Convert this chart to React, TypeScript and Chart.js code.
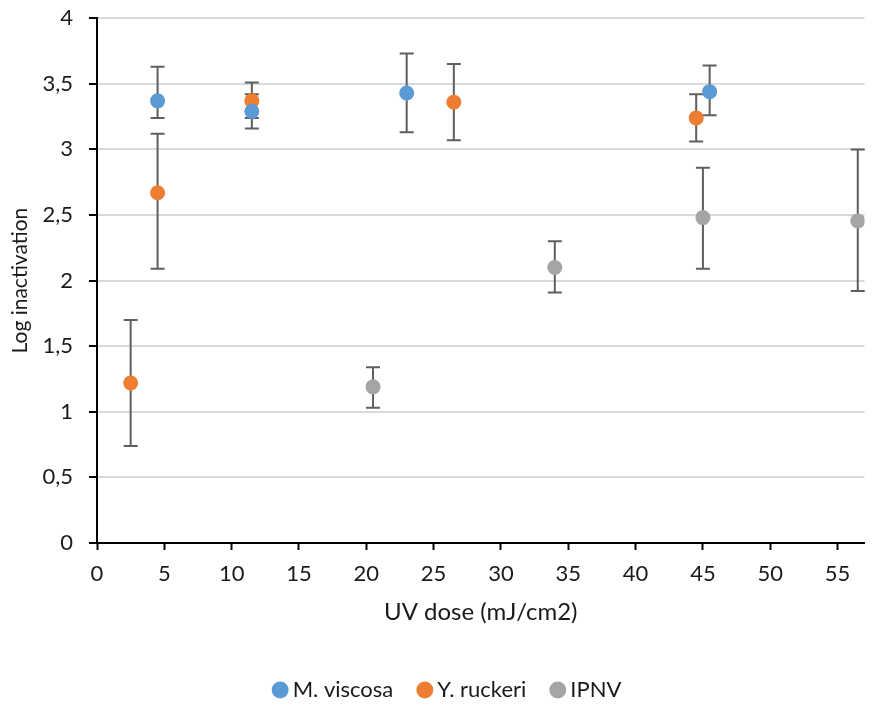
import React, { useEffect, useRef } from "react";
import { Chart, registerables } from "chart.js";

Chart.register(...registerables);

// M. viscosa
const mvX = [4.5, 11.5, 23.0, 45.5];
const mvY = [3.37, 3.29, 3.43, 3.44];
const mvLow = [3.24, 3.16, 3.13, 3.26];
const mvHigh = [3.63, 3.51, 3.73, 3.64];

// Y. ruckeri
const yrX = [2.5, 4.5, 11.5, 26.5, 44.5];
const yrY = [1.22, 2.67, 3.37, 3.36, 3.24];
const yrLow = [0.74, 2.09, 3.24, 3.07, 3.06];
const yrHigh = [1.7, 3.12, 3.42, 3.65, 3.42];

// IPNV
const ipX = [20.5, 34.0, 45.0, 56.5];
const ipY = [1.19, 2.1, 2.48, 2.455];
const ipLow = [1.03, 1.91, 2.09, 1.92];
const ipHigh = [1.34, 2.3, 2.86, 3.0];

const seriesNames = ["M. viscosa", "Y. ruckeri", "IPNV"];
const seriesColors = ["#5B9BD5", "#ED7D31", "#A5A5A5"];

const xTitle = "UV dose (mJ/cm2)";
const yTitle = "Log inactivation";

const FONT = "Lato, 'Open Sans', sans-serif";
const FS = 22;

function pts(xs: number[], ys: number[], lo: number[], hi: number[]) {
  return xs.map((x, i) => ({ x, y: ys[i], yMin: lo[i], yMax: hi[i] }));
}

const errorBarPlugin = {
  id: "errorBars",
  afterLayout(chart: any) {
    if (chart.legend) {
      chart.legend.left += 13;
      chart.legend.right += 13;
    }
  },
  beforeDatasetsDraw(chart: any) {
    const { ctx } = chart;
    const xs = chart.scales.x;
    const ys = chart.scales.y;
    ctx.save();
    ctx.strokeStyle = "#5f5f5f";
    ctx.lineWidth = 2;
    const cap = 7;
    chart.data.datasets.forEach((ds: any) => {
      ds.data.forEach((p: any) => {
        const x = xs.getPixelForValue(p.x);
        const y1 = ys.getPixelForValue(p.yMin);
        const y2 = ys.getPixelForValue(p.yMax);
        ctx.beginPath();
        ctx.moveTo(x, y1);
        ctx.lineTo(x, y2);
        ctx.moveTo(x - cap, y1);
        ctx.lineTo(x + cap, y1);
        ctx.moveTo(x - cap, y2);
        ctx.lineTo(x + cap, y2);
        ctx.stroke();
      });
    });
    ctx.restore();
  },
};

export default function App() {
  const ref = useRef<HTMLCanvasElement>(null);

  useEffect(() => {
    const data = [
      pts(mvX, mvY, mvLow, mvHigh),
      pts(yrX, yrY, yrLow, yrHigh),
      pts(ipX, ipY, ipLow, ipHigh),
    ];
    const chart = new Chart(ref.current!, {
      type: "scatter",
      data: {
        datasets: data.map((d, i) => ({
          label: seriesNames[i],
          data: d,
          backgroundColor: seriesColors[i],
          borderColor: seriesColors[i],
          borderWidth: 0,
          pointRadius: 7.5,
          pointHoverRadius: 7.5,
          pointStyle: "circle",
        })),
      },
      plugins: [errorBarPlugin],
      options: {
        responsive: false,
        animation: false,
        layout: { padding: { left: 8, right: 6, top: 6, bottom: 0 } },
        plugins: {
          tooltip: { enabled: false },
          legend: {
            position: "bottom",
            labels: {
              usePointStyle: true,
              boxWidth: 3,
              boxHeight: 12,
              padding: 30,
              color: "#1a1a1a",
              font: { family: FONT, size: FS },
            },
          },
        },
        scales: {
          x: {
            type: "linear",
            min: 0,
            max: 57,
            afterFit(scale: any) {
              scale.height = 106;
            },
            ticks: {
              stepSize: 5,
              includeBounds: false,
              color: "#1a1a1a",
              font: { family: FONT, size: FS },
              padding: 11,
              maxRotation: 0,
            },
            grid: {
              drawOnChartArea: false,
              tickLength: 7,
              tickColor: "#000",
              tickWidth: 2,
            },
            border: { color: "#000", width: 2 },
            title: {
              display: true,
              text: xTitle,
              color: "#1a1a1a",
              font: { family: FONT, size: 24 },
              padding: { top: 0, bottom: 22 },
            },
          },
          y: {
            type: "linear",
            min: 0,
            max: 4,
            afterFit(scale: any) {
              scale.width = 89;
            },
            ticks: {
              stepSize: 0.5,
              color: "#1a1a1a",
              font: { family: FONT, size: FS },
              padding: 16,
              callback: (v: any) => String(v).replace(".", ","),
            },
            grid: {
              color: "#d9d9d9",
              lineWidth: 2,
              tickLength: 8,
              tickColor: "#000",
              tickWidth: 2,
            },
            border: { color: "#000", width: 2 },
            title: {
              display: true,
              text: yTitle,
              color: "#1a1a1a",
              font: { family: FONT, size: 21 },
              padding: 0,
            },
          },
        },
      },
    });
    return () => chart.destroy();
  }, []);

  return (
    <div
      style={{
        position: "fixed",
        left: 0,
        top: 0,
        width: 872,
        height: 706,
        overflow: "hidden",
        background: "#fff",
      }}
    >
      <canvas
        ref={ref}
        width={872}
        height={722}
        style={{ display: "block", marginTop: -11 }}
      />
    </div>
  );
}
